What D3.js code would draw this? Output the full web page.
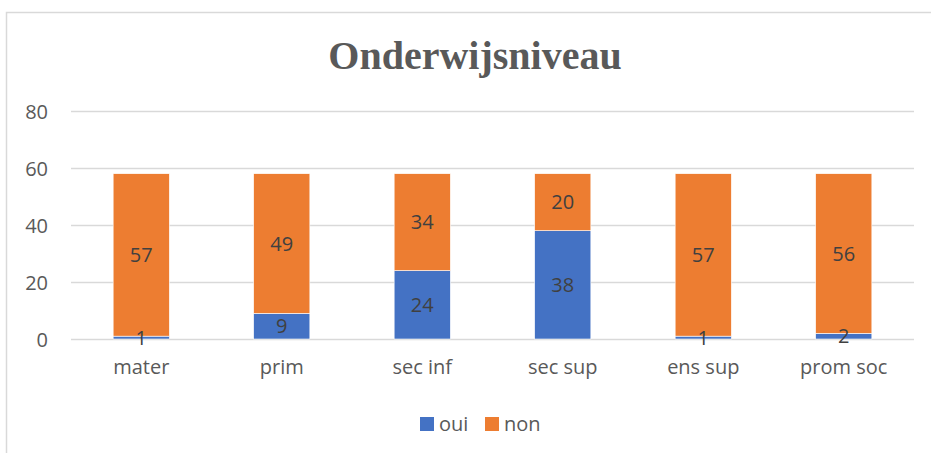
<!DOCTYPE html>
<html>
<head>
<meta charset="utf-8">
<script src="https://cdn.jsdelivr.net/npm/d3@7"></script>
<style>
  body { margin: 0; background: #fff; }
  text { font-family: "Open Sans", sans-serif; }
</style>
</head>
<body>
<div class="canvas"></div>
<script>
const categories = ["mater", "prim", "sec inf", "sec sup", "ens sup", "prom soc"];
const oui = [1, 9, 24, 38, 1, 2];
const non = [57, 49, 34, 20, 57, 56];
const yTicks = [0, 20, 40, 60, 80];
const seriesNames = ["oui", "non"];
const colors = ["#4472C4", "#ED7D31"];

const dims = { width: 931, height: 453 };
const plot = { left: 71, right: 914, top: 111, bottom: 339 };

const svg = d3
  .select(".canvas")
  .append("svg")
  .attr("width", dims.width)
  .attr("height", dims.height);

// chart border
svg
  .append("rect")
  .attr("x", 6.5)
  .attr("y", 12.5)
  .attr("width", 940)
  .attr("height", 460)
  .attr("fill", "none")
  .attr("stroke", "#d9d9d9")
  .attr("stroke-width", 1.5);

// title
svg
  .append("text")
  .attr("x", 475)
  .attr("y", 69)
  .attr("text-anchor", "middle")
  .style("font-family", "'Liberation Serif', 'Times New Roman', serif")
  .style("font-weight", "bold")
  .style("font-size", "40px")
  .attr("fill", "#595959")
  .text("Onderwijsniveau");

const x = d3
  .scaleBand()
  .domain(categories)
  .range([plot.left, plot.right])
  .paddingInner(0.6)
  .paddingOuter(0.3);

const y = d3.scaleLinear().domain([0, 80]).range([plot.bottom, plot.top]);

// gridlines + y labels
const yAxis = svg
  .append("g")
  .attr("transform", `translate(${plot.left}, 0)`)
  .call(
    d3
      .axisLeft(y)
      .tickValues(yTicks)
      .tickSize(-(plot.right - plot.left))
      .tickPadding(23)
  );
yAxis.select(".domain").remove();
yAxis.selectAll("line").attr("stroke", "#d9d9d9").attr("stroke-width", 1.5);
yAxis
  .selectAll("text")
  .attr("fill", "#595959")
  .style("font-size", "20px")
  .attr("dy", "0.35em");

// stacked data
const table = categories.map((c, i) => ({ cat: c, oui: oui[i], non: non[i] }));
const stack = d3.stack().keys(seriesNames)(table);

const layers = svg
  .selectAll("g.layer")
  .data(stack)
  .enter()
  .append("g")
  .attr("class", "layer")
  .attr("fill", (d, i) => colors[i]);

layers
  .selectAll("rect")
  .data((d) => d)
  .enter()
  .append("rect")
  .attr("x", (d) => x(d.data.cat))
  .attr("width", x.bandwidth())
  .attr("y", (d) => y(d[1]))
  .attr("height", (d) => y(d[0]) - y(d[1]))
  .attr("stroke", "#fff")
  .attr("stroke-width", 0.6);

// data labels, drawn on top of every bar
const labelData = stack.flatMap((s) => s);
svg
  .append("g")
  .selectAll("text")
  .data(labelData)
  .enter()
  .append("text")
  .attr("x", (d) => x(d.data.cat) + x.bandwidth() / 2)
  .attr("y", (d) => (y(d[0]) + y(d[1])) / 2)
  .attr("dy", "0.36em")
  .attr("text-anchor", "middle")
  .attr("fill", "#404040")
  .style("font-size", "20px")
  .text((d) => d[1] - d[0]);

// x axis labels
const xAxis = svg
  .append("g")
  .attr("transform", `translate(0, ${plot.bottom})`)
  .call(d3.axisBottom(x).tickSize(0).tickPadding(21));
xAxis.select(".domain").remove();
xAxis
  .selectAll("text")
  .attr("fill", "#595959")
  .style("font-size", "20px");

// legend
const legendItems = [
  { name: "oui", x: 420 },
  { name: "non", x: 485 },
];
const legend = svg
  .selectAll("g.legend")
  .data(legendItems)
  .enter()
  .append("g")
  .attr("class", "legend")
  .attr("transform", (d) => `translate(${d.x}, 417)`);

legend
  .append("rect")
  .attr("width", 14)
  .attr("height", 14)
  .attr("fill", (d, i) => colors[i]);

legend
  .append("text")
  .attr("x", 19)
  .attr("y", 7)
  .attr("dy", "0.36em")
  .attr("fill", "#595959")
  .style("font-size", "20px")
  .text((d) => d.name);
</script>
</body>
</html>
